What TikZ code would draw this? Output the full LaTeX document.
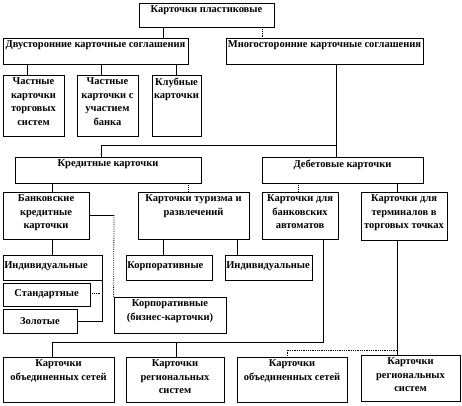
\documentclass[tikz,border=0pt]{standalone}
\usepackage{fontspec}
\setmainfont{Liberation Serif}
\usetikzlibrary{fit}
\tikzset{
  box/.style={draw=black, line width=0.8pt, inner sep=0pt},
  txt/.style={font=\bfseries\fontsize{10.5}{13.5}\selectfont, align=center, inner sep=1pt, anchor=north},
  ltxt/.style={font=\bfseries\fontsize{10.5}{13.5}\selectfont, align=left, inner sep=1pt, anchor=west},
  conn/.style={draw=black, line width=0.8pt},
  dconn/.style={draw=black, line width=0.8pt, densely dotted},
}
% name x1 y1 x2 y2 text
\newcommand\cbox[6]{%
  \node[box, fit={(#2,#3) (#4,#5)}] (#1) {};
  \node[txt] (#1t) at ([yshift=-2pt]#1.north) {#6};}
\newcommand\lbox[6]{%
  \node[box, fit={(#2,#3) (#4,#5)}] (#1) {};
  \node[ltxt] (#1t) at ([shift={(0.5pt,1pt)}]#1.west) {#6};}
\newcommand\midbox[6]{%
  \node[box, fit={(#2,#3) (#4,#5)}] (#1) {};
  \node[txt, anchor=center] (#1t) at (#1.center) {#6};}
\begin{document}
\begin{tikzpicture}[x=1pt,y=-1pt]
\useasboundingbox (0,0) rectangle (462,405);
% level 0
\cbox{top}{139}{3}{274}{27}{Карточки пластиковые}
% level 1
\cbox{dvu}{3}{38}{188}{64}{Двусторонние карточные соглашения}
\cbox{mno}{226}{38}{423}{64}{Многосторонние карточные соглашения}
% level 2 (left)
\cbox{ch1}{3}{75}{64}{136}{Частные\\карточки\\торговых\\систем}
\cbox{ch2}{77}{75}{138}{136}{Частные\\карточки с\\участием\\банка}
\cbox{klub}{152}{75}{201}{136}{Клубные\\карточки}
% credit / debit
\cbox{kred}{15}{157}{201}{183}{Кредитные карточки}
\cbox{deb}{262}{157}{423}{183}{Дебетовые карточки}
\cbox{bank}{3}{192}{89}{239}{Банковские\\кредитные\\карточки}
\cbox{tur}{138}{192}{249}{239}{Карточки туризма и\\развлечений}
\cbox{avt}{262}{192}{338}{239}{Карточки для\\банковских\\автоматов}
\cbox{term}{361}{192}{447}{240}{Карточки для\\терминалов в\\торговых точках}
% sub boxes
\lbox{ind1}{3}{255}{102}{280}{Индивидуальные}
\midbox{std}{3}{283}{90}{306}{Стандартные}
\midbox{zol}{3}{309}{77}{333}{Золотые}
\lbox{korp}{126}{255}{212}{280}{Корпоративные}
\lbox{ind2}{225}{255}{312}{280}{Индивидуальные}
\cbox{biz}{114}{297}{226}{333}{Корпоративные\\(бизнес-карточки)}
% bottom
\cbox{ob1}{3}{357}{114}{402}{Карточки\\объединенных сетей}
\cbox{reg1}{126}{357}{224}{402}{Карточки\\региональных\\систем}
\cbox{ob2}{237}{357}{347}{402}{Карточки\\объединенных сетей}
\cbox{reg2}{361}{355}{460}{401}{Карточки\\региональных\\систем}
% connectors
\draw[conn] (163,0 |- top.south) -- (163,0 |- dvu.north);
\draw[dconn] (262,0 |- top.south) -- (262,0 |- mno.north);
\draw[conn] (27,0 |- dvu.south) -- (27,0 |- ch1.north);
\draw[conn] (101,0 |- dvu.south) -- (101,0 |- ch2.north);
\draw[conn] (176,0 |- dvu.south) -- (176,0 |- klub.north);
\coordinate (j1) at (336,145);
\coordinate (j2) at (101,145);
\draw[conn] (j1 |- mno.south) -- (j1) -- (j2) -- (j2 |- kred.north);
\draw[conn] (j1) -- (j1 |- deb.north);
\draw[conn] (52,0 |- kred.south) -- (52,0 |- bank.north);
\draw[dconn] (188,0 |- kred.south) -- (188,0 |- tur.north);
\draw[dconn] (298,0 |- deb.south) -- (298,0 |- avt.north);
\draw[conn] (397,0 |- deb.south) -- (397,0 |- term.north);
\draw[conn] (52,0 |- bank.south) -- (52,0 |- ind1.north);
\coordinate (j3) at (114,215);
\draw[conn] (bank.east |- j3) -- (j3);
\draw[dconn] (j3) -- (biz.north west);
\coordinate (j4) at (101,293);
\draw[dconn] (std.east |- j4) -- (j4);
\draw[conn] (ind1.south east) |- (zol.east);
\draw[conn] (163,0 |- tur.south) -- (163,0 |- korp.north);
\draw[conn] (237,0 |- tur.south) -- (237,0 |- ind2.north);
\coordinate (j5) at (323,342);
\coordinate (j6) at (52,342);
\coordinate (j7) at (176,342);
\draw[conn] (j5 |- avt.south) -- (j5) -- (j6) -- (j6 |- ob1.north);
\draw[conn] (j7) -- (j7 |- reg1.north);
\coordinate (j8) at (397,350);
\coordinate (j9) at (287,350);
\draw[conn] (j8 |- term.south) -- (j8 |- reg2.north);
\draw[dconn] (j8) -- (j9) -- (j9 |- ob2.north);
\end{tikzpicture}
\end{document}
